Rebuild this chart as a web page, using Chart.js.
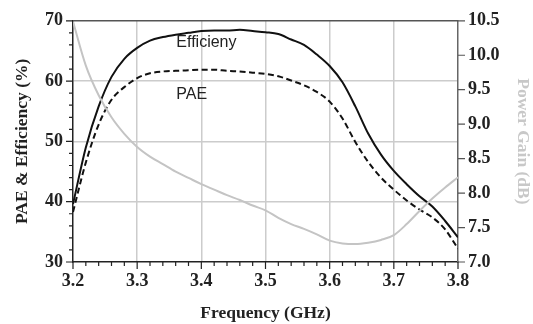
<!DOCTYPE html>
<html>
<head>
<meta charset="utf-8">
<script src="https://cdn.jsdelivr.net/npm/chart.js@4.4.1/dist/chart.umd.min.js"></script>
<style>
  html, body { margin: 0; padding: 0; background: #fff; }
  #wrap { width: 533px; height: 324px; }
</style>
</head>
<body>
<div id="wrap"><canvas id="chart" width="533" height="324"></canvas></div>
<script>
'use strict';

/* ── DATA ──────────────────────────────────────────────────────── */
var freqGHz = [3.20, 3.22, 3.24, 3.26, 3.28, 3.30, 3.32, 3.34, 3.36, 3.38,
               3.40, 3.42, 3.44, 3.46, 3.48, 3.50, 3.52, 3.54, 3.56, 3.58,
               3.60, 3.62, 3.64, 3.66, 3.68, 3.70, 3.72, 3.74, 3.76, 3.78, 3.80];

var efficiency = [39.6, 49.0, 55.8, 60.7, 63.7, 65.5, 66.7, 67.3, 67.7, 68.0,
                  68.3, 68.4, 68.4, 68.5, 68.3, 68.1, 67.8, 66.9, 66.0, 64.4,
                  62.5, 59.8, 55.8, 51.3, 47.8, 45.1, 42.9, 40.9, 39.2, 36.8, 34.1];

var pae = [38.3, 46.5, 52.8, 56.9, 59.0, 60.5, 61.3, 61.6, 61.7, 61.8,
           61.9, 61.9, 61.7, 61.6, 61.4, 61.2, 60.8, 60.1, 59.3, 58.2,
           56.6, 53.8, 49.9, 46.6, 44.0, 42.0, 40.2, 38.7, 37.4, 35.4, 32.2];

var powerGain = [10.49, 9.85, 9.42, 9.10, 8.86, 8.67, 8.53, 8.42, 8.31, 8.22,
                 8.13, 8.05, 7.97, 7.90, 7.82, 7.75, 7.64, 7.55, 7.48, 7.40,
                 7.31, 7.27, 7.26, 7.28, 7.32, 7.39, 7.55, 7.74, 7.92, 8.08, 8.23];

/* in-plot labels: text, x (GHz), y (%) at baseline-left */
var curveLabels = ['Efficieny', 'PAE'];
var curveLabelX = [3.361, 3.361];
var curveLabelY = [65.6, 57.0];

function pts(ys) {
  return ys.map(function(v, i) { return { x: freqGHz[i], y: v }; });
}

/* ── STYLE ─────────────────────────────────────────────────────── */
var SERIF = '"Liberation Serif", "Times New Roman", serif';
var SANS  = '"Liberation Sans", Arial, sans-serif';
var GRID  = '#cccccc';

/* frame + tick marks + curve labels */
var framePlugin = {
  id: 'frame',
  afterDraw: function(chart) {
    var ctx = chart.ctx, a = chart.chartArea;
    var sx = chart.scales.x, sy = chart.scales.y, sy1 = chart.scales.y1;
    var v;
    ctx.save();
    ctx.lineCap = 'butt';

    // top frame line
    ctx.strokeStyle = '#555';
    ctx.lineWidth = 1.5;
    ctx.beginPath();
    ctx.moveTo(a.left, a.top);
    ctx.lineTo(a.right, a.top);
    ctx.stroke();

    ctx.strokeStyle = '#222';
    ctx.lineWidth = 1.2;
    ctx.beginPath();
    // bottom axis ticks
    for (v = 0; v <= 30; v++) {
      var px = sx.getPixelForValue(3.2 + v * 0.02);
      var len = (v % 5 === 0) ? 7 : 4;
      ctx.moveTo(px, a.bottom);
      ctx.lineTo(px, a.bottom + len);
    }
    // left axis ticks
    for (v = 30; v <= 70; v += 2) {
      var py = sy.getPixelForValue(v);
      var l2 = (v % 10 === 0) ? 7 : 4;
      ctx.moveTo(a.left, py);
      ctx.lineTo(a.left - l2, py);
    }
    ctx.stroke();

    // right axis ticks
    ctx.strokeStyle = '#555';
    ctx.beginPath();
    for (v = 0; v <= 7; v++) {
      var py1 = sy1.getPixelForValue(7 + v * 0.5);
      ctx.moveTo(a.right, py1);
      ctx.lineTo(a.right + 7, py1);
    }
    ctx.stroke();

    // curve labels
    ctx.fillStyle = '#222';
    ctx.font = '16px ' + SANS;
    ctx.textAlign = 'left';
    ctx.textBaseline = 'alphabetic';
    for (var i = 0; i < curveLabels.length; i++) {
      ctx.fillText(curveLabels[i], sx.getPixelForValue(curveLabelX[i]), sy.getPixelForValue(curveLabelY[i]));
    }
    ctx.restore();
  }
};

/* ── CHART ─────────────────────────────────────────────────────── */
var chart = new Chart(document.getElementById('chart'), {
  type: 'line',
  data: {
    datasets: [
      {
        label: 'Power Gain',
        data: pts(powerGain),
        yAxisID: 'y1',
        borderColor: '#c4c4c4',
        borderWidth: 2,
        cubicInterpolationMode: 'monotone',
        pointRadius: 0,
        fill: false,
      },
      {
        label: 'Efficiency',
        data: pts(efficiency),
        yAxisID: 'y',
        borderColor: '#111',
        borderWidth: 2,
        cubicInterpolationMode: 'monotone',
        pointRadius: 0,
        fill: false,
      },
      {
        label: 'PAE',
        data: pts(pae),
        yAxisID: 'y',
        borderColor: '#111',
        borderWidth: 2,
        borderDash: [6, 3.5],
        cubicInterpolationMode: 'monotone',
        pointRadius: 0,
        fill: false,
      },
    ]
  },
  options: {
    responsive: false,
    animation: false,
    events: [],
    layout: { padding: { top: 19, left: 0, right: 0, bottom: 0 } },
    plugins: { legend: { display: false }, tooltip: { enabled: false } },
    scales: {
      x: {
        type: 'linear',
        min: 3.2, max: 3.8,
        afterFit: function(s) { s.height = 62; },
        ticks: {
          stepSize: 0.1,
          padding: 9,
          color: '#222',
          font: { family: SERIF, size: 18, weight: 'bold' },
          callback: function(v) { return v.toFixed(1); },
        },
        grid: {
          drawTicks: false,
          lineWidth: 1.5,
          color: function(c) {
            var v = c.tick && c.tick.value;
            return (Math.abs(v - 3.2) < 1e-6 || Math.abs(v - 3.8) < 1e-6) ? 'rgba(0,0,0,0)' : GRID;
          },
        },
        border: { color: '#222', width: 1.5 },
        title: {
          display: true,
          text: 'Frequency (GHz)',
          color: '#222',
          padding: { top: 2, bottom: 0 },
          font: { family: SERIF, size: 17.5, weight: 'bold' },
        },
      },
      y: {
        position: 'left',
        min: 30, max: 70,
        afterFit: function(s) { s.width = 73; },
        ticks: {
          stepSize: 10,
          padding: 10,
          color: '#222',
          font: { family: SERIF, size: 18, weight: 'bold' },
        },
        grid: {
          drawTicks: false,
          lineWidth: 1.5,
          color: function(c) {
            var v = c.tick && c.tick.value;
            return (v === 30 || v === 70) ? 'rgba(0,0,0,0)' : GRID;
          },
        },
        border: { color: '#222', width: 1.5 },
        title: {
          display: true,
          text: 'PAE & Efficiency (%)',
          color: '#222',
          padding: { top: 12, bottom: 0 },
          font: { family: SERIF, size: 17.5, weight: 'bold' },
        },
      },
      y1: {
        position: 'right',
        min: 7.0, max: 10.5,
        afterFit: function(s) { s.width = 75; },
        ticks: {
          stepSize: 0.5,
          padding: 10,
          color: '#222',
          font: { family: SERIF, size: 18, weight: 'bold' },
          callback: function(v) { return v.toFixed(1); },
        },
        grid: { drawOnChartArea: false, drawTicks: false },
        border: { color: '#666', width: 1.5 },
        title: {
          display: true,
          text: 'Power Gain (dB)',
          color: '#c8c8c8',
          padding: { top: 0, bottom: 0 },
          font: { family: SERIF, size: 17.5, weight: 'bold' },
        },
      },
    },
  },
  plugins: [framePlugin],
});
</script>
</body>
</html>
